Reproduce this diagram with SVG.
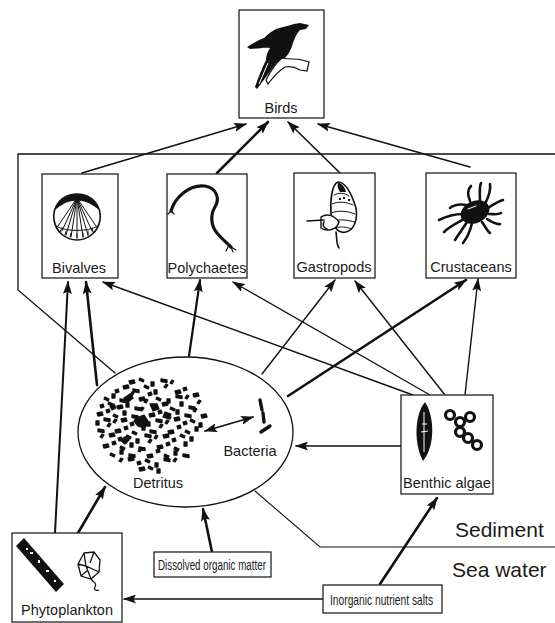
<svg xmlns="http://www.w3.org/2000/svg" width="555" height="623" viewBox="0 0 555 623">
<style>
.box{fill:#fff;stroke:#222;stroke-width:1.3}
.lbl{font-family:"Liberation Sans",Arial,sans-serif;font-size:14.5px;fill:#1a1a1a;text-anchor:middle}
.big{font-family:"Liberation Sans",Arial,sans-serif;font-size:21px;fill:#1a1a1a}
.sm{font-family:"Liberation Sans",Arial,sans-serif;fill:#1a1a1a}
.ln{fill:none;stroke:#111;stroke-linecap:round}
.a{marker-end:url(#ah)}
.w1{stroke-width:1.4}
.w2{stroke-width:2}
.w3{stroke-width:2.6}
.ink{fill:#111}
</style>
<defs>
<marker id="ah" viewBox="0 0 13 9" refX="12" refY="4.5" markerWidth="13" markerHeight="9" markerUnits="userSpaceOnUse" orient="auto"><path d="M0,0 L13,4.5 L0,9 L2.5,4.5 z" fill="#111"/></marker>
<marker id="ahs" viewBox="0 0 13 9" refX="12" refY="4.5" markerWidth="13" markerHeight="9" markerUnits="userSpaceOnUse" orient="auto-start-reverse"><path d="M0,0 L13,4.5 L0,9 L2.5,4.5 z" fill="#111"/></marker>
</defs>
<rect width="555" height="623" fill="#fff"/>

<g id="connectors">
<polyline class="ln" style="stroke-width:1.3" points="115,373 18,290 18,154 555,154"/>
<polyline class="ln" style="stroke-width:1.1" points="255,491 320,547 555,547"/>
<line class="ln a" style="stroke-width:1.6" x1="82" y1="173" x2="246" y2="124"/>
<line class="ln a w3" x1="217" y1="173" x2="268" y2="122"/>
<line class="ln a" style="stroke-width:1.6" x1="340" y1="173" x2="288" y2="122"/>
<line class="ln a w1" x1="470" y1="167" x2="318" y2="124"/>
<line class="ln a w2" x1="55" y1="533" x2="68" y2="282"/>
<line class="ln a w3" x1="97" y1="385" x2="86" y2="282"/>
<line class="ln a w1" x1="413" y1="395" x2="103" y2="282"/>
<line class="ln a" style="stroke-width:2.2" x1="189" y1="356" x2="200" y2="280"/>
<line class="ln a w1" x1="430" y1="395" x2="233" y2="282"/>
<line class="ln a w1" x1="262" y1="374" x2="335" y2="280"/>
<line class="ln a w1" x1="445" y1="395" x2="355" y2="281"/>
<line class="ln a w3" x1="288" y1="396" x2="466" y2="280"/>
<line class="ln a w1" x1="465" y1="395" x2="478" y2="279"/>
<line class="ln a" style="stroke-width:1.6" x1="401" y1="446" x2="296" y2="446"/>
<line class="ln a" style="stroke-width:1.8;marker-start:url(#ahs)" x1="205" y1="431" x2="253" y2="417"/>
<line class="ln a w3" x1="78" y1="533" x2="105" y2="487"/>
<line class="ln a w3" x1="212" y1="552" x2="203" y2="509"/>
<line class="ln a w3" x1="380" y1="584" x2="437" y2="498"/>
<line class="ln a w1" x1="323" y1="599" x2="124" y2="599"/>
</g>

<g id="birds">
<rect class="box" x="239" y="10" width="85" height="108"/>
<path class="ink" d="M300,23 L309,25 L306,29 L300,30 C296,34 294,40 292,46 C290,52 287,57 282,60 L276,63 C270,71 264,80 257,89 L255,87 C258,78 262,68 266,60 C266,55 268,51 270,48 C264,47 257,49 250,49 L247,47 C253,43 259,40 264,38 C268,34 272,31 276,29 C284,27 292,24 300,23 Z"/>
<path d="M282,58 C290,60 296,58 302,60 L309,62 L307,71 L300,70 C295,67 290,66 285,67 C280,70 274,76 268,84 L266,80 C270,72 276,63 282,58 Z" fill="#fff" stroke="#111" stroke-width="1.2"/>
<path fill="none" stroke="#fff" stroke-width="1" d="M268,63 L259,84"/>
<text class="lbl" x="281" y="113">Birds</text>
</g>

<g id="bivalves">
<rect class="box" x="42" y="174" width="76" height="104"/>
<path d="M77,194 C62,194 52,206 54,220 C56,232 66,240 77,240 C88,240 98,232 100,220 C102,206 92,194 77,194 Z" fill="#fff" stroke="#111" stroke-width="1.6"/>
<path class="ink" d="M77,194 C66,194 57,201 55,210 C62,204 70,200 77,201 C84,200 92,204 99,210 C97,201 88,194 77,194 Z"/>
<path class="ln" style="stroke-width:1" d="M77,198 L58,226 M77,198 L62,231 M77,198 L66,235 M77,198 L71,237 M77,198 L77,238 M77,198 L83,237 M77,198 L88,235 M77,198 L92,231 M77,198 L96,226 M56,226 C66,232 88,232 98,226 M60,232 L62,228 M65,235 L66,231 M70,237 L71,233 M77,238 L77,234 M83,237 L83,233 M88,235 L88,231 M93,232 L92,228"/>
<text class="lbl" x="79" y="273">Bivalves</text>
</g>

<g id="polychaetes">
<rect class="box" x="167" y="174" width="80" height="104"/>
<path class="ln" style="stroke-width:3.2" d="M171,211 C175,197 190,184 205,186 C217,188 220,199 215,207 C210,215 211,226 217,233 C222,239 227,243 231,247"/>
<path class="ln" style="stroke-width:1.2" d="M171,211 L168,214 M171,211 L174,214 M229,245 L226,251 M231,247 L233,252 M231,247 L236,250"/>
<text class="lbl" x="207" y="273">Polychaetes</text>
</g>

<g id="gastropods">
<rect class="box" x="294" y="173" width="81" height="105"/>
<path d="M338,182 C346,182 352,195 356,208 C358,220 354,230 346,232 C338,234 332,226 331,214 C330,200 332,184 338,182 Z" fill="#fff" stroke="#111" stroke-width="1.6"/>
<path class="ln" style="stroke-width:1" d="M334,195 C339,192 345,193 349,196 M332,204 C338,201 347,202 353,205 M331,213 C338,210 348,211 355,214 M332,221 C339,219 348,220 355,222 M336,228 C340,226 347,227 351,229"/>
<path class="ink" d="M338,183 C342,183 345,187 346,192 L340,192 C338,189 337,186 338,183 Z M343,197 h2 v2 h-2z M348,199 h2 v2 h-2z M339,198 h2 v2 h-2z"/>
<path d="M321,217 C327,213 334,215 339,222 C337,230 327,232 321,228 Z" fill="#fff" stroke="#111" stroke-width="1.4"/>
<path class="ln" style="stroke-width:1.6" d="M307,221 L324,220 M336,232 C337,238 336,243 339,248 M324,222 C322,225 324,228 327,229"/>
<text class="lbl" x="334" y="272">Gastropods</text>
</g>

<g id="crustaceans">
<rect class="box" x="426" y="173" width="90" height="105"/>
<ellipse class="ink" cx="475" cy="212" rx="15" ry="11" transform="rotate(-25 475 212)"/>
<path class="ln" style="stroke-width:2.6" d="M463,214 C455,214 447,216 439,220 M464,219 C457,223 450,226 444,232 M467,222 C462,230 458,235 455,240 M472,223 C470,232 467,238 463,243 M466,205 C460,204 454,205 450,208 M470,201 C467,194 468,189 471,186 M480,202 C480,194 479,188 481,183 M485,204 C489,196 491,190 490,184 M488,208 C494,204 499,201 503,200 M489,214 C494,214 498,215 501,213 M487,219 C492,222 496,225 500,224 M482,222 C486,228 488,232 490,233"/>
<path class="ln" style="stroke-width:1;stroke:#fff" d="M468,209 L476,206"/>
<text class="lbl" x="471" y="272">Crustaceans</text>
</g>

<g id="detritus">
<ellipse cx="185.5" cy="432" rx="107.5" ry="75" fill="none" stroke="#111" stroke-width="1.3"/>
<path class="ink" stroke="#111" stroke-width="1.3" stroke-linejoin="round" d="M129,381l5,-1 1,3 -5,1z M140,378l4,2 -1,2 -4,-2z M151,382l3,0 0,4 -3,0z M161,379l6,1 0,2.5 -6,-1z M170,383l2,-3 2,1 -2,3z
M115,390l3,-1 1,3 -3,1z M123,386l5,-1 1,3 -5,1z M133,389l6,1 0,2.5 -6,-1z M145,385l4,2 -1,2 -4,-2z M154,390l3,0 0,4 -3,0z M164,387l2,-3 2,1 -2,3z M175,391l5,-1 1,3 -5,1z M183,388l3,-1 1,3 -3,1z
M105,397l4,2 -1,2 -4,-2z M112,394l3,0 0,4 -3,0z M120,399l6,1 0,2.5 -6,-1z M130,395l2,-3 2,1 -2,3z M139,398l5,-1 1,3 -5,1z M148,393l3,-1 1,3 -3,1z M157,397l4,2 -1,2 -4,-2z M167,399l3,0 0,4 -3,0z M176,395l6,1 0,2.5 -6,-1z M185,398l2,-3 2,1 -2,3z M193,394l5,-1 1,3 -5,1z
M100,405l3,-1 1,3 -3,1z M109,402l4,2 -1,2 -4,-2z M117,406l5,-1 1,3 -5,1z M126,403l3,0 0,4 -3,0z M135,407l6,1 0,2.5 -6,-1z M144,402l2,-3 2,1 -2,3z M152,406l3,-1 1,3 -3,1z M162,403l5,-1 1,3 -5,1z M171,407l4,2 -1,2 -4,-2z M180,402l3,0 0,4 -3,0z M189,406l6,1 0,2.5 -6,-1z M197,403l2,-3 2,1 -2,3z
M97,413l5,-1 1,3 -5,1z M106,410l3,-1 1,3 -3,1z M114,414l4,2 -1,2 -4,-2z M123,411l3,0 0,4 -3,0z M132,415l6,1 0,2.5 -6,-1z M140,410l2,-3 2,1 -2,3z M149,414l5,-1 1,3 -5,1z M158,411l3,-1 1,3 -3,1z M167,415l4,2 -1,2 -4,-2z M176,410l3,0 0,4 -3,0z M185,414l6,1 0,2.5 -6,-1z M193,411l2,-3 2,1 -2,3z M201,415l5,-1 1,3 -5,1z
M96,421l3,0 0,4 -3,0z M104,418l6,1 0,2.5 -6,-1z M113,422l2,-3 2,1 -2,3z M121,419l5,-1 1,3 -5,1z M130,423l3,-1 1,3 -3,1z M138,418l4,2 -1,2 -4,-2z M147,422l3,0 0,4 -3,0z M156,419l6,1 0,2.5 -6,-1z M165,423l2,-3 2,1 -2,3z M174,418l5,-1 1,3 -5,1z M183,422l3,-1 1,3 -3,1z M191,419l4,2 -1,2 -4,-2z M199,423l3,0 0,4 -3,0z
M98,429l6,1 0,2.5 -6,-1z M107,426l2,-3 2,1 -2,3z M115,430l5,-1 1,3 -5,1z M124,427l3,-1 1,3 -3,1z M133,431l4,2 -1,2 -4,-2z M142,426l3,0 0,4 -3,0z M150,430l6,1 0,2.5 -6,-1z M159,427l2,-3 2,1 -2,3z M168,431l5,-1 1,3 -5,1z M177,426l3,-1 1,3 -3,1z M186,430l4,2 -1,2 -4,-2z M195,427l3,0 0,4 -3,0z
M100,437l2,-3 2,1 -2,3z M109,434l5,-1 1,3 -5,1z M118,438l3,-1 1,3 -3,1z M127,435l4,2 -1,2 -4,-2z M136,439l3,0 0,4 -3,0z M145,434l6,1 0,2.5 -6,-1z M154,438l2,-3 2,1 -2,3z M163,435l5,-1 1,3 -5,1z M172,439l3,-1 1,3 -3,1z M181,434l4,2 -1,2 -4,-2z M190,437l3,0 0,4 -3,0z
M103,445l5,-1 1,3 -5,1z M112,442l3,-1 1,3 -3,1z M121,446l4,2 -1,2 -4,-2z M130,443l3,0 0,4 -3,0z M139,447l6,1 0,2.5 -6,-1z M148,442l2,-3 2,1 -2,3z M157,446l5,-1 1,3 -5,1z M166,443l3,-1 1,3 -3,1z M175,447l4,2 -1,2 -4,-2z M184,442l3,0 0,4 -3,0z
M111,453l4,2 -1,2 -4,-2z M120,450l3,0 0,4 -3,0z M129,454l6,1 0,2.5 -6,-1z M138,451l2,-3 2,1 -2,3z M147,455l5,-1 1,3 -5,1z M156,450l3,-1 1,3 -3,1z M165,454l4,2 -1,2 -4,-2z M174,451l3,0 0,4 -3,0z M183,454l6,1 0,2.5 -6,-1z
M119,461l2,-3 2,1 -2,3z M128,458l5,-1 1,3 -5,1z M137,462l3,-1 1,3 -3,1z M146,459l4,2 -1,2 -4,-2z M155,463l3,0 0,4 -3,0z M164,458l6,1 0,2.5 -6,-1z M173,461l2,-3 2,1 -2,3z
M139,468l5,-1 1,3 -5,1z M149,466l4,2 -1,2 -4,-2z M157,469l3,0 0,4 -3,0z
M136,418l8,-3 4,6 -3,7 -7,-2 -4,-5z M124,398l6,-4 3,4 -5,4z M150,404l7,0 2,5 -6,2z M165,412l6,2 -2,5 -6,-2z M120,440l5,-3 4,3 -4,4z M110,406l4,-2 2,4 -4,2z"/>
<path class="ln" style="stroke-width:3.4" d="M260,400 L262,410 M263,413 L264,422 M261,432 L270,426"/>
<text class="lbl" x="158" y="488">Detritus</text>
<text class="lbl" x="250" y="456">Bacteria</text>
</g>

<g id="benthic-algae">
<rect class="box" x="401" y="395" width="92" height="99"/>
<path class="ink" d="M425,402 C434,415 436,445 423,461 C414,445 414,415 425,402 Z"/>
<path fill="none" stroke="#fff" stroke-width="1" d="M424,412 L424,452 M421,432 L428,431 M422,424 L427,424"/>
<g fill="none" stroke="#111" stroke-width="3.2">
<circle cx="450" cy="415" r="4.5"/><circle cx="460" cy="422" r="4.5"/><circle cx="470" cy="417" r="4.5"/><circle cx="460" cy="432" r="4.5"/><circle cx="468" cy="438" r="4.5"/><circle cx="477" cy="445" r="4.5"/>
</g>
<text class="lbl" x="447" y="488">Benthic algae</text>
</g>

<g id="phytoplankton">
<rect class="box" x="12" y="533" width="110" height="89"/>
<polygon class="ink" points="24,538 64,584 56,592 16,546"/>
<path fill="#fff" d="M30,552 h3 v2 h-3z M38,560 h2 v3 h-2z M46,570 h3 v2 h-3z M54,580 h2 v2 h-2z M26,548 h2 v2 h-2z"/>
<path fill="none" stroke="#111" stroke-width="1.3" d="M84,553 L94,552 L100,560 L99,572 L91,579 L81,576 L78,564 Z M84,553 L86,566 L99,572 M78,564 L86,566 L91,579 M94,552 L90,563 M81,576 L88,570 M91,579 C94,583 97,583 95,587 C93,590 97,591 99,590"/>
<text class="lbl" x="67" y="615">Phytoplankton</text>
</g>

<g id="dissolved-organic-matter">
<rect class="box" x="154" y="552" width="117" height="25"/>
<text class="sm" x="158" y="570" font-size="14" textLength="108" lengthAdjust="spacingAndGlyphs">Dissolved organic matter</text>
</g>

<g id="inorganic-nutrient-salts">
<rect class="box" x="323" y="585" width="119" height="28"/>
<text class="sm" x="330" y="605" font-size="14.5" textLength="103" lengthAdjust="spacingAndGlyphs">Inorganic nutrient salts</text>
</g>

<g id="zone-labels">
<text class="big" x="455" y="537">Sediment</text>
<text class="big" x="452" y="577">Sea water</text>
</g>
</svg>
